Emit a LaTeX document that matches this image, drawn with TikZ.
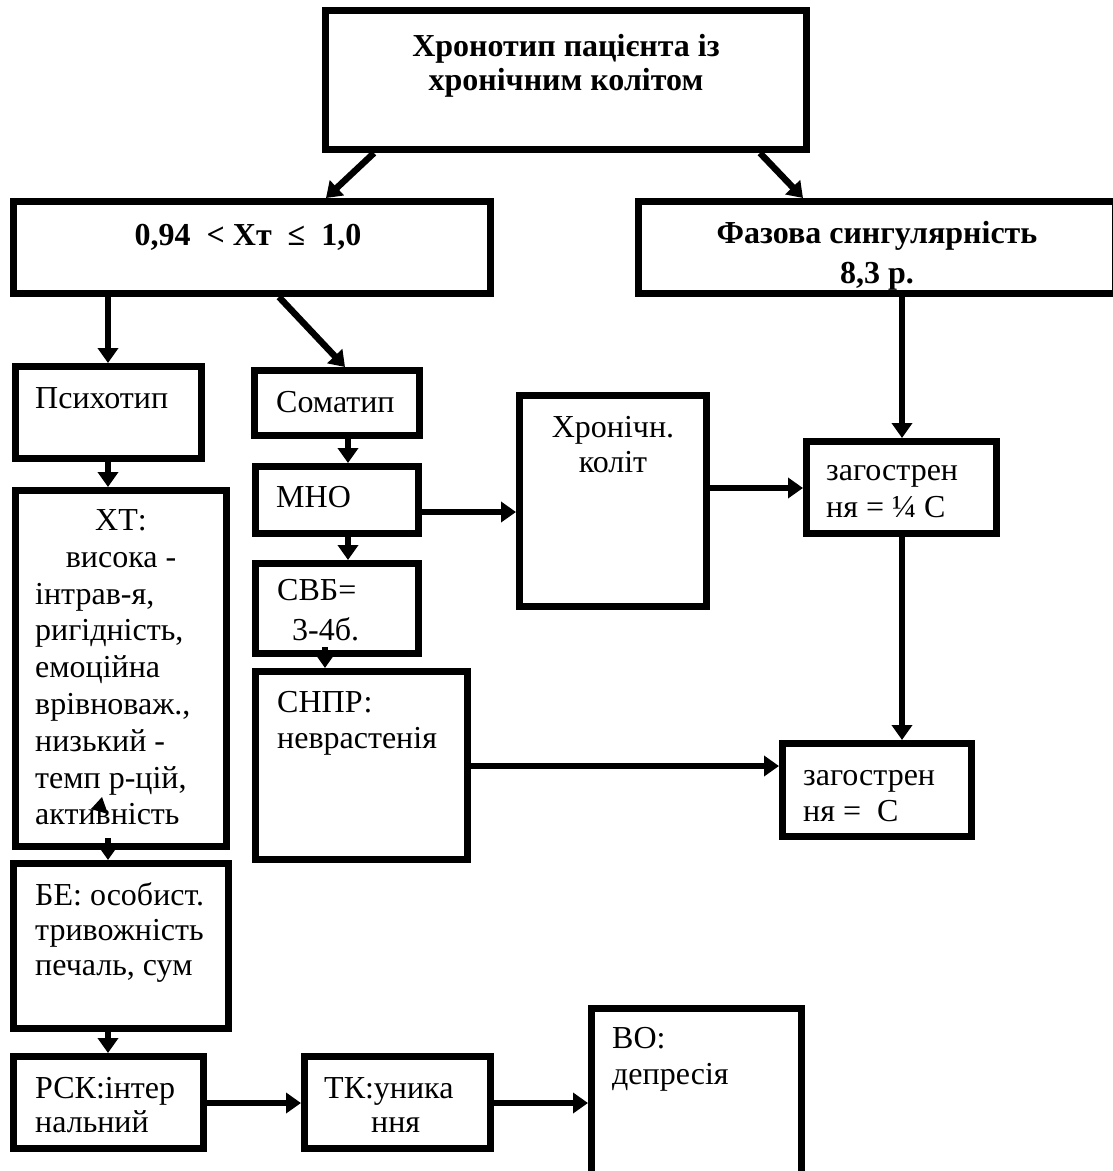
\documentclass[tikz,border=0pt]{standalone}
\usepackage{fontspec}
\setmainfont{Liberation Serif}
\usetikzlibrary{arrows.meta,calc}
\newcommand\mybox[5]{\node[box, minimum width={#4-#2-7}, minimum height={#5-#3-7}] (#1) at ({(#2+#4)/2},{(#3+#5)/2}) {};}
\newcommand\ml[2]{\begin{tabular}[t]{@{}#1@{}}#2\end{tabular}}
\begin{document}
\begin{tikzpicture}[x=1pt,y=-1pt,
  box/.style={draw, line width=7pt, inner sep=0pt, rectangle},
  txt/.style={inner sep=0pt, font=\fontsize{32}{37}\selectfont},
  btxt/.style={inner sep=0pt, font=\fontsize{32}{37}\selectfont\bfseries},
  arr/.style={line width=6.5pt, -{Triangle[length=15pt,width=20pt]}},
]
\useasboundingbox (0,0) rectangle (1113,1171);
\clip (0,0) rectangle (1113,1171);
\fill[white] (0,0) rectangle (1113,1171);

% boxes
\mybox{top}{322}{7}{810}{153}
\mybox{A}{10}{198}{494}{297}
\mybox{B}{635}{198}{1119}{297}
\mybox{psy}{12}{363}{205}{462}
\mybox{som}{251}{367}{423}{439}
\mybox{mno}{252}{463}{422}{537}
\mybox{xron}{516}{392}{710}{610}
\mybox{zagA}{803}{438}{1000}{537}
\mybox{xt}{12}{487}{230}{850}
\mybox{svb}{252}{560}{422}{657}
\mybox{snpr}{252}{668}{471}{863}
\mybox{zagB}{779}{740}{975}{840}
\mybox{be}{10}{860}{232}{1032}
\mybox{rsk}{10}{1053}{207}{1152}
\mybox{tk}{301}{1053}{494}{1152}
\mybox{vo}{588}{1005}{805}{1200}

% texts
\node[btxt, anchor=base, font=\fontsize{32}{34}\selectfont\bfseries] (ttop) at (566,56) {\ml{c}{Хронотип пацієнта із\\хронічним колітом}};
\node[btxt, anchor=base] (tA) at (248,245) {0,94\ \ < Хт\ \ ≤\ \ 1,0};
\node[btxt, anchor=base, font=\fontsize{32}{40}\selectfont\bfseries] (tB) at (877,243) {\ml{c}{Фазова сингулярність\\8,3 р.}};
\node[txt, anchor=base west] (tpsy) at (35,408) {Психотип};
\node[txt, anchor=base west] (tsom) at (276,412) {Соматип};
\node[txt, anchor=base west] (tmno) at (276,507) {МНО};
\node[txt, anchor=base] (txt1) at (121,530) {\ml{c}{ХТ:\\висока -}};
\node[txt, anchor=base west, font=\fontsize{32}{36.8}\selectfont] (txt2) at (35,604) {\ml{l}{інтрав-я,\\ригідність,\\емоційна\\врівноваж.,\\низький -\\темп р-цій,\\активність}};
\node[txt, anchor=base west, font=\fontsize{32}{40}\selectfont] (tsvb) at (277,600) {\ml{l}{СВБ=\\\hspace{15pt}3-4б.}};
\node[txt, anchor=base west, font=\fontsize{32}{36}\selectfont] (tsnpr) at (277,712) {\ml{l}{СНПР:\\неврастенія}};
\node[txt, anchor=base, font=\fontsize{32}{35}\selectfont] (txron) at (613,437) {\ml{c}{Хронічн.\\коліт}};
\node[txt, anchor=base west] (tzagA) at (826,480) {\ml{l}{загострен\\ня = ¼ С}};
\node[txt, anchor=base west, font=\fontsize{32}{36}\selectfont] (tzagB) at (803,785) {\ml{l}{загострен\\ня =\ \ С}};
\node[txt, anchor=base west, font=\fontsize{32}{35}\selectfont] (tbe) at (35,905) {\ml{l}{БЕ: особист.\\тривожність\\печаль, сум}};
\node[txt, anchor=base west, font=\fontsize{32}{34}\selectfont] (trsk) at (35,1098) {\ml{l}{РСК:інтер\\нальний}};
\node[txt, anchor=base west, font=\fontsize{32}{34}\selectfont] (ttk) at (324,1098) {\ml{l}{ТК:уника\\\hspace{47pt}ння}};
\node[txt, anchor=base west, font=\fontsize{32}{36}\selectfont] (tvo) at (612,1048) {\ml{l}{ВО:\\депресія}};

% stray arrowhead inside ХТ box
\fill (102,797) -- (91,809) -- (108,814) -- cycle;

% connectors
\draw[arr] ($(top.south west)+(52,0)$) -- ($(A.north west)+(316,0)$);
\draw[arr] ($(top.south west)+(438,0)$) -- ($(B.north west)+(168,0)$);
\draw[arr] ($(A.south west)+(98,0)$) -- ($(psy.north west)+(96,0)$);
\draw[arr] ($(A.south west)+(269,0)$) -- ($(som.north west)+(94,0)$);
\draw[arr] ($(psy.south west)+(96,0)$) -- ($(xt.north west)+(96,0)$);
\draw[arr] ($(som.south west)+(97,0)$) -- ($(mno.north west)+(96,0)$);
\draw[arr] ($(mno.south west)+(96,0)$) -- ($(svb.north west)+(96,0)$);
\draw[arr] ($(svb.south west)+(73,-10)$) -- ($(snpr.north west)+(73,0)$);
\draw[arr] ($(xt.south west)+(96,-12)$) -- ($(be.north west)+(98,0)$);
\draw[arr] ($(be.south west)+(98,0)$) -- ($(rsk.north west)+(98,0)$);
\draw[arr] ($(mno.north east)+(0,49)$) -- ($(xron.north west)+(0,120)$);
\draw[arr] ($(xron.north east)+(0,96)$) -- ($(zagA.north west)+(0,50)$);
\draw[arr] ($(B.south west)+(267,0)$) -- ($(zagA.north west)+(99,0)$);
\draw[arr] ($(zagA.south west)+(99,0)$) -- ($(zagB.north west)+(123,0)$);
\draw[arr] ($(snpr.north east)+(0,98)$) -- ($(zagB.north west)+(0,26)$);
\draw[arr] ($(rsk.north east)+(0,50)$) -- ($(tk.north west)+(0,50)$);
\draw[arr] ($(tk.north east)+(0,50)$) -- ($(vo.north west)+(0,98)$);
\end{tikzpicture}
\end{document}
